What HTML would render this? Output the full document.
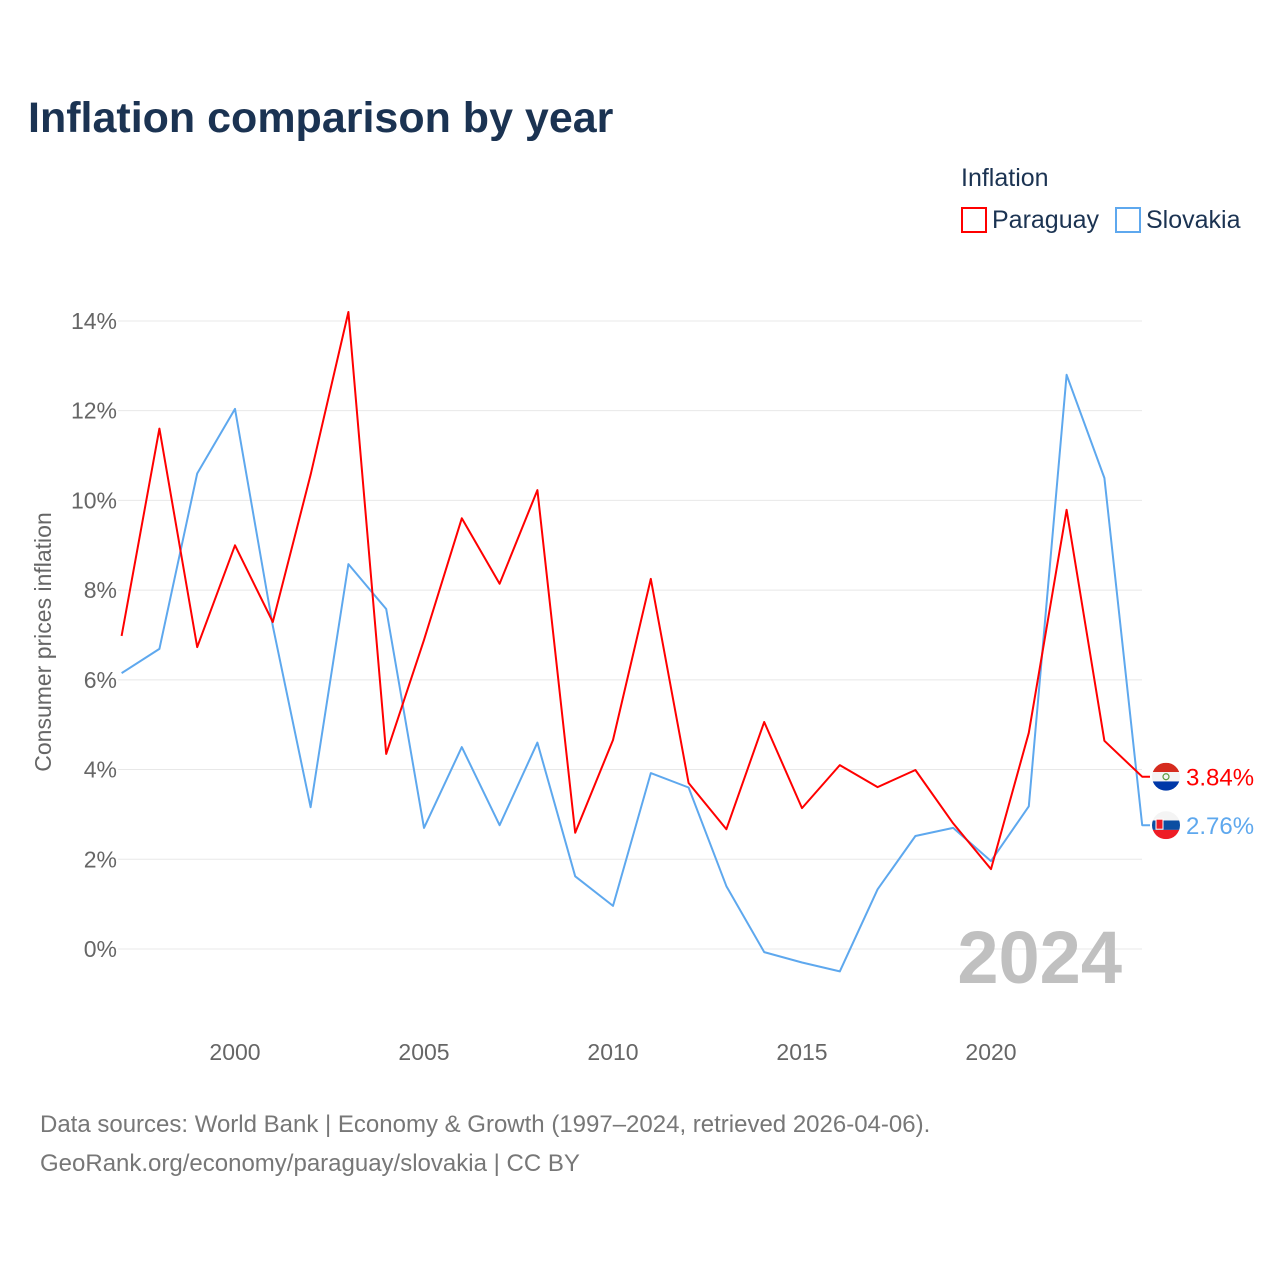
<!DOCTYPE html>
<html><head><meta charset="utf-8">
<style>
body{margin:0;background:#fff;}
svg{display:block;font-family:"Liberation Sans",sans-serif;}
</style></head>
<body>
<svg id="chart" width="1280" height="1280" viewBox="0 0 1280 1280">
<rect width="1280" height="1280" fill="#fff"/>
<text x="28" y="132" font-size="43" font-weight="bold" fill="#1b3352">Inflation comparison by year</text>
<g>
<text x="961" y="186" font-size="25" fill="#1b3352">Inflation</text>
<g>
<rect x="962" y="208" width="24" height="24" fill="none" stroke="#ff0000" stroke-width="2"/>
<text x="992" y="228" font-size="25" fill="#1b3352">Paraguay</text></g>
<g>
<rect x="1116" y="208" width="24" height="24" fill="none" stroke="#5ea8ee" stroke-width="2"/>
<text x="1146" y="228" font-size="25" fill="#1b3352">Slovakia</text></g>
</g>
<g id="grid"></g>
<g id="yticks"></g>
<g id="xticks"></g>
<text transform="translate(51,642) rotate(-90)" text-anchor="middle" font-size="23" fill="#666">Consumer prices inflation</text>
<text x="1122" y="983" text-anchor="end" font-size="74" font-weight="bold" fill="#c0c0c0">2024</text>
<g id="series"></g>
<g id="endlabels"></g>
<text x="40" y="1132" font-size="24" fill="#777">Data sources: World Bank | Economy &amp; Growth (1997–2024, retrieved 2026-04-06).</text>
<text x="40" y="1171" font-size="24" fill="#777">GeoRank.org/economy/paraguay/slovakia | CC BY</text>
</svg>
<script>
const years = [1997,1998,1999,2000,2001,2002,2003,2004,2005,2006,2007,2008,2009,2010,2011,2012,2013,2014,2015,2016,2017,2018,2019,2020,2021,2022,2023,2024];
const paraguay = [6.98,11.6,6.73,9.0,7.29,10.57,14.2,4.35,6.89,9.6,8.14,10.23,2.59,4.66,8.25,3.7,2.67,5.06,3.14,4.1,3.61,3.99,2.8,1.78,4.82,9.79,4.64,3.84];
const slovakia = [6.15,6.69,10.6,12.04,7.2,3.16,8.58,7.58,2.7,4.5,2.76,4.6,1.62,0.96,3.92,3.6,1.4,-0.07,-0.3,-0.5,1.33,2.52,2.7,1.96,3.18,12.8,10.5,2.76];
const yTicks = [0,2,4,6,8,10,12,14];
const xTicks = [2000,2005,2010,2015,2020];
const NS="http://www.w3.org/2000/svg";
function xs(y){return 121.6+(y-1997)*37.8;}
function ys(v){return 949-v*44.86;}
function mk(tag,attrs,parent,text){const e=document.createElementNS(NS,tag);for(const k in attrs)e.setAttribute(k,attrs[k]);if(text!==undefined)e.textContent=text;parent.appendChild(e);return e;}
const grid=document.getElementById('grid'),yt=document.getElementById('yticks'),xt=document.getElementById('xticks');
yTicks.forEach(t=>{
  const l=mk('line',{x1:118,x2:1142,y1:ys(t),y2:ys(t),stroke:'#e8e8e8','stroke-width':1},grid);
  
  
  const tx=mk('text',{x:117,y:ys(t)+8,'text-anchor':'end','font-size':23,fill:'#666'},yt,t+'%');
  
  
});
xTicks.forEach(t=>{
  const tx=mk('text',{x:xs(t),y:1060,'text-anchor':'middle','font-size':23,fill:'#666'},xt,String(t));
  
  
});
const ser=document.getElementById('series');
function line(vals,color,name){
  let d=vals.map((v,i)=>(i?'L':'M')+xs(years[i]).toFixed(1)+' '+ys(v).toFixed(1)).join(' ');
  d+=' L 1150 '+ys(vals[vals.length-1]).toFixed(1);
  const p=mk('path',{d:d,fill:'none',stroke:color,'stroke-width':2,'stroke-linejoin':'round'},ser);
  
  
}
line(slovakia,'#5ea8ee','line-slovakia');
line(paraguay,'#ff0000','line-paraguay');
const el=document.getElementById('endlabels');
function flag(cx,cy,top,bot,name,emblem){
  const g=mk('g',{},el);
  
  
  mk('clipPath',{id:'c'+name},g);
  document.getElementById('c'+name).appendChild(document.createElementNS(NS,'circle'));
  const c=document.getElementById('c'+name).firstChild;c.setAttribute('cx',cx);c.setAttribute('cy',cy);c.setAttribute('r',14);
  const gg=mk('g',{'clip-path':'url(#c'+name+')'},g);
  mk('rect',{x:cx-14,y:cy-14,width:28,height:9.3,fill:top[0]},gg);
  mk('rect',{x:cx-14,y:cy-4.7,width:28,height:9.4,fill:top[1]},gg);
  mk('rect',{x:cx-14,y:cy+4.7,width:28,height:9.3,fill:bot},gg);
  emblem(gg);
}
const pY=ys(paraguay[27]),sY=ys(slovakia[27]);
flag(1166,pY,['#d52b1e','#f4f4f4'],'#0038a8','flag-paraguay',g=>mk('circle',{cx:1166,cy:pY,r:3,fill:'none',stroke:'#5a9a3a','stroke-width':1.2},g));
flag(1166,sY,['#f4f4f4','#0b4ea2'],'#ee1c25','flag-slovakia',g=>mk('rect',{x:1156,y:sY-6,width:7,height:10,fill:'#ee1c25',stroke:'#fff','stroke-width':1},g));
const t1=mk('text',{x:1186,y:pY+9,'font-size':24,fill:'#ff0000'},el,paraguay[27].toFixed(2)+'%');


const t2=mk('text',{x:1186,y:sY+9,'font-size':24,fill:'#5ea8ee'},el,slovakia[27].toFixed(2)+'%');


</script>
</body></html>
